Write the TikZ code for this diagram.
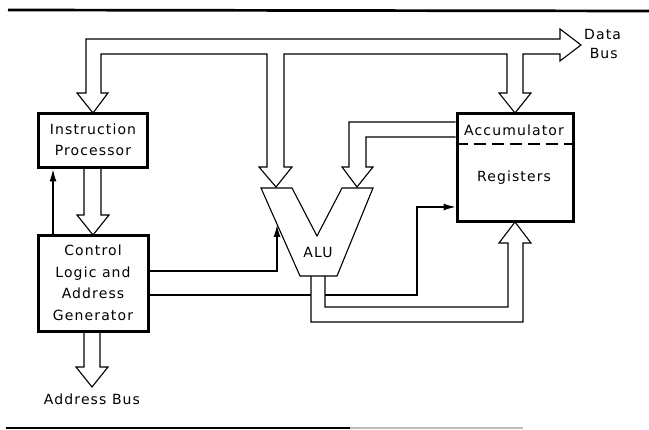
\documentclass[tikz,border=0pt]{standalone}
\usepackage{fontspec}
\setmainfont[LetterSpace=8]{DejaVu Sans}
\usetikzlibrary{arrows.meta}
\begin{document}
\begin{tikzpicture}[x=1pt,y=-1pt,
  thickbox/.style={draw,line width=3pt,inner sep=0pt},
  bus/.style={line width=1.1pt,line join=miter},
  ctl/.style={line width=1.1pt,-{Latex[length=12pt,width=7pt]}},
  ctlplain/.style={line width=1.1pt},
  lbl/.style={font=\fontsize{14}{21.5}\selectfont,align=center,inner sep=0pt}]
\useasboundingbox (0,0) rectangle (649,430);
% rules
\draw[line width=2.7pt] (8,10) -- (649,11);
\draw[line width=2.2pt] (6,428) -- (350,428);
\draw[line width=2.2pt,black!25] (350,428) -- (523,428);

% boxes
\node[thickbox,minimum width=109pt,minimum height=54pt] (ip) at (92.5,141) {};
\node[lbl] at (93,140) {Instruction\\Processor};
\node[thickbox,minimum width=110pt,minimum height=96pt] (cl) at (93,284) {};
\node[lbl] at (93,283) {Control\\Logic and\\Address\\Generator};
\node[thickbox,minimum width=116pt,minimum height=108pt] (reg) at (515,168) {};
\node[lbl] (acc) at (514,130) {Accumulator};
\node[lbl] (regl) at (514,178) {Registers};
\draw[line width=1.1pt,dash pattern=on 12pt off 6pt] (reg.west |- 0,144) -- (reg.east |- 0,144);

% ALU
\draw[line width=1.1pt,line join=miter] (261,188) coordinate (aluA) -- (292,188) -- (317,236) -- (342,188) -- (373,188) -- (337,276) -- (300,276) -- cycle;
\node[lbl] (alu) at (318,252) {ALU};

% Data bus (closed outline)
\draw[bus] (86,93) -- (86,39) -- (560,39) -- (560,29) -- (581,45) -- (560,61) -- (560,54)
  -- (523,54) -- (523,93) -- (531,93) -- (515,113) -- (499,93) -- (507,93) -- (507,54)
  -- (284,54) -- (284,167) -- (292,167) -- (276,187) -- (259,167) -- (267,167) -- (267,54)
  -- (101,54) -- (101,93) -- (108,93) -- (93,113) -- (77,93) -- cycle;
\node[font=\fontsize{14}{19}\selectfont,align=left,inner sep=0pt,anchor=west] (db) at (584,44) {Data\\\ Bus};

% Accumulator to ALU
\draw[bus] (reg.west |- 0,122) -- (349,122) -- (349,167) -- (342,167) -- (357,187) -- (373,167) -- (366,167) -- (366,137) -- (reg.west |- 0,137);

% IP to CL
\draw[bus] (84,168) -- (84,215) -- (77,215) -- (93,235) -- (109,215) -- (101,215) -- (101,168);

% Address bus
\draw[bus] (84,332) -- (84,367) -- (76,367) -- (92,387) -- (108,367) -- (100,367) -- (100,332);
\node[lbl] (ab) at (92,399) {Address Bus};

% ALU output bus to registers
\draw[bus] (311,276) -- (311,322) -- (523,322) -- (523,243) -- (531,243) -- (515,222) -- (499,243) -- (508,243) -- (508,307) -- (325,307) -- (325,276);

% control lines
\draw[ctl] (cl.north -| 53,0) -- (ip.south -| 53,0);
\draw[ctl] (cl.east |- 0,271) -- (277,271) -- (277,225);
\draw[ctlplain] (cl.east |- 0,295) -- (311,295);
\draw[ctl] (325,295) -- (417,295) -- (417,207) -- (reg.west |- 0,207);
\end{tikzpicture}
\end{document}
